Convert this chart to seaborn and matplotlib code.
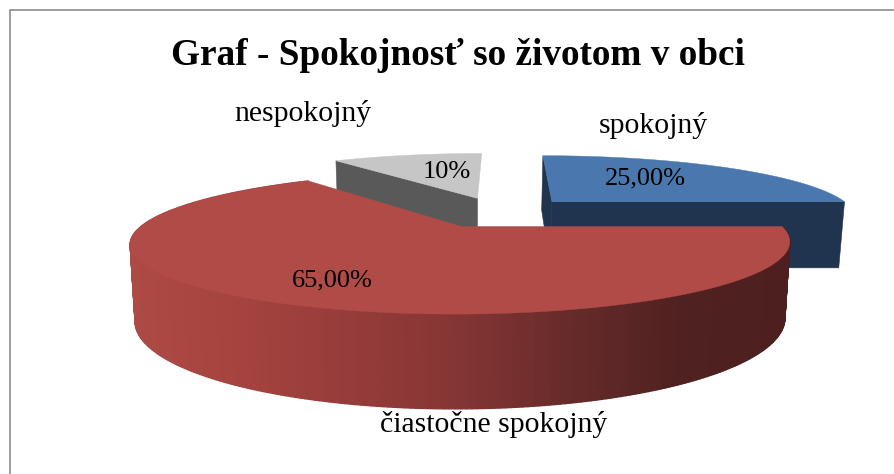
import numpy as np
import matplotlib
matplotlib.use("Agg")
import matplotlib.pyplot as plt
import seaborn as sns

# --- data -------------------------------------------------------------
categories = ["spokojný", "čiastočne spokojný", "nespokojný"]
shares = [25.0, 65.0, 10.0]
value_labels = ["25,00%", "65,00%", "10%"]
title = "Graf - Spokojnosť so životom v obci"

# --- style ------------------------------------------------------------
sns.set_theme(style="white")
plt.rcParams["font.family"] = ["Liberation Serif", "DejaVu Serif"]
top_colors = ["#4A78AE", "#B04B47", "#C6C6C6"]
side_colors = ["#20344F", None, "#595959"]
rim_cmap = sns.blend_palette(
    ["#AD4A46", "#A5433F", "#963C3A", "#843533", "#662B2A", "#4F2120", "#4D1F1E"],
    as_cmap=True,
)
explode = [(0.30, 0.406), (0.0, 0.0), (0.045, 0.466)]
visible_walls = [(0, 1), (), (0,)]

CX, CY, A, P, K, SHEAR, DEPTH, SHRINK = 461.5, 226.5, 320.5, 67.0, 0.235, 6.5, 72.5, 0.985


def project(X, Y, lower=False):
    d = 1 + K * Y
    x = CX + SHEAR * Y + A * X / d
    y = CY - P * Y / d
    if lower:
        x = CX + (x - CX) * SHRINK
        y = y + DEPTH / d
    return x, y


fig = plt.figure(figsize=(8.95, 4.74), dpi=100)
ax = fig.add_axes([0, 0, 1, 1])
ax.set_xlim(0, 895)
ax.set_ylim(474, 0)
ax.axis("off")

# frame: only the top and left edges fall inside the picture
ax.plot([895, 10, 10], [9.5, 9.5, 474], color="#8C8C8C", lw=1.2, zorder=1, solid_joinstyle="miter")

# slice angles, clockwise from 12 o'clock
fractions = np.array(shares) / sum(shares)
edges = 90 - 360 * np.concatenate([[0], np.cumsum(fractions)])


def draw_slice(i, z):
    t0, t1 = edges[i], edges[i + 1]
    ox, oy = explode[i]
    th = np.radians(np.linspace(t0, t1, 300))
    X, Y = ox + np.cos(th), oy + np.sin(th)
    for w in visible_walls[i]:
        r = np.radians((t0, t1)[w])
        ex, ey = ox + np.cos(r), oy + np.sin(r)
        p = [project(ox, oy), project(ex, ey), project(ex, ey, True), project(ox, oy, True)]
        ax.fill(*zip(*p), color=side_colors[i], lw=0.4, zorder=z)
    if side_colors[i] is None:
        # curved outer wall with a left-to-right shading
        for j in range(len(th) - 1):
            p = [project(X[j], Y[j]), project(X[j + 1], Y[j + 1]),
                 project(X[j + 1], Y[j + 1], True), project(X[j], Y[j], True)]
            xm = np.mean([q[0] for q in p])
            ax.fill(*zip(*p), color=rim_cmap((xm - 130) / 660), lw=1.0, zorder=z)
    xs, ys = project(np.r_[ox, X], np.r_[oy, Y])
    ax.fill(xs, ys, color=top_colors[i], lw=0.3, zorder=z + 0.5)


draw_slice(2, 2)
draw_slice(0, 3)
draw_slice(1, 4)

ax.text(458, 55, title, ha="center", va="center", fontsize=26.85, fontweight="bold", color="black", zorder=6)
label_pos = [(653, 125), (494, 425), (303, 113)]
value_pos = [(645, 178), (332, 280), (447, 172)]
for name, lp, val, vp in zip(categories, label_pos, value_labels, value_pos):
    ax.text(*lp, name, ha="center", va="center", fontsize=21.4, color="black", zorder=6)
    ax.text(*vp, val, ha="center", va="center", fontsize=19, color="black", zorder=6)

fig.savefig("out.png", dpi=100, facecolor="white")
